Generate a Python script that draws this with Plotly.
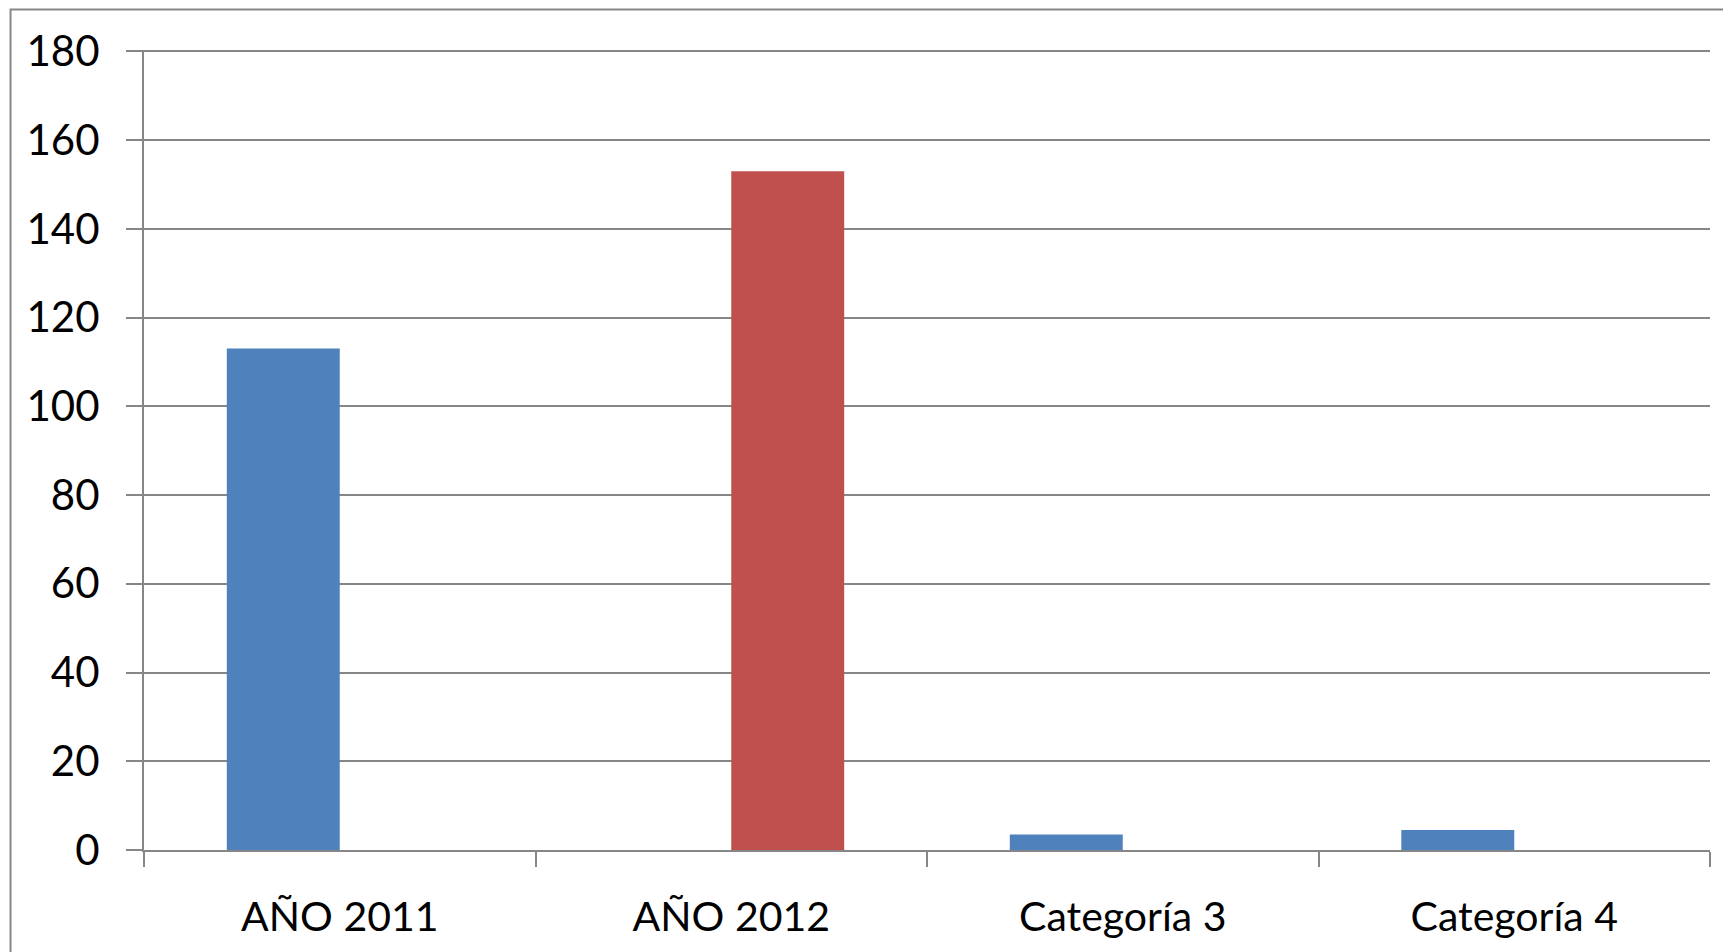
import plotly.graph_objects as go

categories = ["AÑO 2011", "AÑO 2012", "Categoría 3", "Categoría 4"]
serie1 = [113, 0, 3.5, 4.5]
serie2 = [0, 153, 0, 0]
y_ticks = [0, 20, 40, 60, 80, 100, 120, 140, 160, 180]

W, H = 1731, 952
OFF = 8  # page body margin
L, R, T, B = 143.5 - OFF, 1710 - OFF, 49.7 - OFF, 850 - OFF
GRAY = "#868686"
FONT = "Lato"

fig = go.Figure()
fig.add_trace(go.Bar(x=categories, y=serie1, name="Serie 1", marker=dict(color="#4F81BD", line=dict(width=0))))
fig.add_trace(go.Bar(x=categories, y=serie2, name="Serie 2", marker=dict(color="#C0504D", line=dict(width=0))))

pw, ph = R - L, B - T
fig.add_shape(type="rect", xref="paper", yref="paper",
              x0=(10 - OFF - L) / pw, x1=(W + 20 - L) / pw,
              y0=(B - (H + 20)) / ph, y1=(B - 1.2) / ph,
              line=dict(color=GRAY, width=2), fillcolor="rgba(0,0,0,0)", layer="below")

fig.update_layout(
    width=W, height=H,
    margin=dict(l=L, r=W - R, t=T, b=H - B, pad=0),
    paper_bgcolor="white", plot_bgcolor="white",
    barmode="group", bargap=0.423, bargroupgap=0,
    showlegend=False,
    font=dict(family=FONT, size=40, color="black"),
    xaxis=dict(type="category", tickson="boundaries", ticks="outside", ticklen=15,
               tickwidth=2, tickcolor=GRAY, showline=True, linecolor=GRAY, linewidth=2,
               showgrid=False, tickfont=dict(family=FONT, size=41, color="black"),
               ticklabelstandoff=30),
    yaxis=dict(range=[0, 180.3], tickvals=y_ticks, ticks="outside", ticklen=16,
               tickwidth=2, tickcolor=GRAY, showline=True, linecolor=GRAY, linewidth=2,
               showgrid=True, gridcolor=GRAY, gridwidth=2, zeroline=False,
               tickfont=dict(family=FONT, size=42, color="black"),
               ticklabelstandoff=18),
)

fig.write_html("out.html")
